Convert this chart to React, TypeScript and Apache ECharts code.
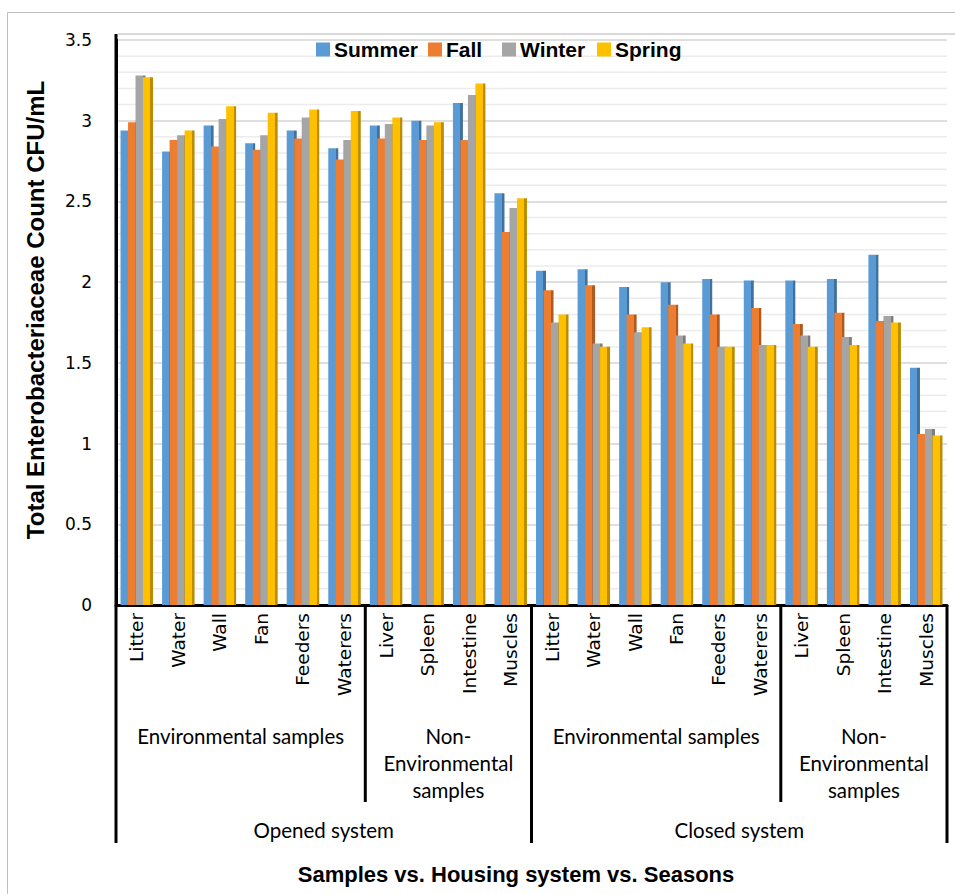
import React, { useEffect, useRef } from "react";
import * as echarts from "echarts";

const categories = [
  "Litter", "Water", "Wall", "Fan", "Feeders", "Waterers", "Liver", "Spleen", "Intestine", "Muscles",
  "Litter", "Water", "Wall", "Fan", "Feeders", "Waterers", "Liver", "Spleen", "Intestine", "Muscles",
];
const seriesNames = ["Summer", "Fall", "Winter", "Spring"];
const summer = [2.94, 2.81, 2.97, 2.86, 2.94, 2.83, 2.97, 3.0, 3.11, 2.55, 2.07, 2.08, 1.97, 2.0, 2.02, 2.01, 2.01, 2.02, 2.17, 1.47];
const fall = [2.99, 2.88, 2.84, 2.82, 2.89, 2.76, 2.89, 2.88, 2.88, 2.31, 1.95, 1.98, 1.8, 1.86, 1.8, 1.84, 1.74, 1.81, 1.76, 1.06];
const winter = [3.28, 2.91, 3.01, 2.91, 3.02, 2.88, 2.98, 2.97, 3.16, 2.46, 1.75, 1.62, 1.69, 1.67, 1.6, 1.61, 1.67, 1.66, 1.79, 1.09];
const spring = [3.27, 2.94, 3.09, 3.05, 3.07, 3.06, 3.02, 2.99, 3.23, 2.52, 1.8, 1.6, 1.72, 1.62, 1.6, 1.61, 1.6, 1.61, 1.75, 1.05];
const yTicks = [0, 0.5, 1, 1.5, 2, 2.5, 3, 3.5];
const minorGrid = [0.1, 0.2, 0.3, 0.4, 0.6, 0.7, 0.8, 0.9, 1.1, 1.2, 1.3, 1.4, 1.6, 1.7, 1.8, 1.9, 2.1, 2.2, 2.3, 2.4, 2.6, 2.7, 2.8, 2.9, 3.1, 3.2, 3.3, 3.4];
const sampleGroups = [
  { label: "Environmental samples", from: 0, to: 6 },
  { label: "Non-\nEnvironmental\nsamples", from: 6, to: 10 },
  { label: "Environmental samples", from: 10, to: 16 },
  { label: "Non-\nEnvironmental\nsamples", from: 16, to: 20 },
];
const systemGroups = [
  { label: "Opened system", from: 0, to: 10 },
  { label: "Closed system", from: 10, to: 20 },
];
const yTitle = "Total Enterobacteriaceae Count CFU/mL";
const xTitle = "Samples vs. Housing system vs. Seasons";

const colors = ["#5B9BD5", "#ED7D31", "#A5A5A5", "#FFC000"];
const darks = ["#41719C", "#AE5A21", "#7C7C7C", "#BC8C00"];
const legendLefts = [316, 428, 502, 597];

export default function App() {
  const ref = useRef<HTMLDivElement>(null);
  useEffect(() => {
    document.body.style.margin = "0";
    const chart = echarts.init(ref.current!, null, { renderer: "svg" });
    const data = [summer, fall, winter, spring];
    const option: any = {
      animation: false,
      backgroundColor: "#ffffff",
      legend: seriesNames.map((n, k) => ({
        left: legendLefts[k],
        top: 39,
        padding: 0,
        itemWidth: 14,
        itemHeight: 14,
        itemGap: 0,
        icon: "rect",
        data: [{ name: n, itemStyle: { color: colors[k] } }],
        textStyle: { fontFamily: "Liberation Sans", fontWeight: "bold", fontSize: 21, color: "#000", padding: [0, 0, 0, -1] },
      })),
      grid: { left: 116, right: 8, top: 40, bottom: 289 },
      xAxis: {
        type: "category",
        data: categories,
        axisLine: { show: true, lineStyle: { color: "#000", width: 3 } },
        axisTick: { show: false },
        splitLine: { show: false },
        axisLabel: {
          rotate: 90,
          interval: 0,
          margin: 8,
          fontFamily: "DejaVu Sans",
          fontSize: 18.5,
          color: "#000",
        },
      },
      yAxis: {
        type: "value",
        min: 0,
        max: 3.5,
        interval: 0.5,
        axisLine: { show: true, lineStyle: { color: "#000", width: 3 } },
        axisTick: { show: false },
        axisLabel: {
          margin: 24,
          fontFamily: "DejaVu Sans",
          fontSize: 17,
          color: "#000",
          formatter: (v: number) => (yTicks.includes(v) ? String(v) : ""),
        },
        splitLine: { show: true, lineStyle: { color: "#D4D4D4", width: 1.5 } },
      },
      series: seriesNames.map((name, k) => ({
        name,
        type: "bar",
        data: data[k],
        barWidth: 10,
        barGap: "-25%",
        barCategoryGap: "20%",
        itemStyle: {
          color: new echarts.graphic.LinearGradient(0, 0, 1, 0, [
            { offset: 0, color: colors[k] },
            { offset: 0.74, color: colors[k] },
            { offset: 0.74, color: darks[k] },
            { offset: 1, color: darks[k] },
          ]),
        },
      })),
    };
    chart.setOption(option);

    const cx = (i: number) => chart.convertToPixel({ xAxisIndex: 0 }, i) as number;
    const py = (v: number) => chart.convertToPixel({ yAxisIndex: 0 }, v) as number;
    const bw = cx(1) - cx(0);
    const bound = (i: number) => cx(0) + (i - 0.5) * bw;
    const y0 = py(0);
    const yTop = py(3.5);
    const labelFont = { fontFamily: "Lato", fontSize: 20.5, fill: "#000" };
    const graphics: any[] = [];
    graphics.push({
      type: "rect",
      shape: { x: 7.5, y: 12.5, width: 1000, height: 1000 },
      style: { fill: "none", stroke: "#BFBFBF", lineWidth: 1 },
      silent: true,
      z: -10,
    });
    minorGrid.forEach((v) => {
      graphics.push({
        type: "line",
        shape: { x1: bound(0), y1: py(v), x2: bound(20), y2: py(v) },
        style: { stroke: "#ECECEC", lineWidth: 1.5 },
        silent: true,
        z: -5,
      });
    });
    graphics.push({
      type: "line",
      shape: { x1: bound(0) + 2, y1: yTop - 6, x2: 955, y2: yTop - 6 },
      style: { stroke: "#D9D9D9", lineWidth: 2 },
      silent: true,
    });
    graphics.push({
      type: "line",
      shape: { x1: bound(0), y1: yTop - 6, x2: bound(0), y2: y0 },
      style: { stroke: "#000", lineWidth: 3 },
      silent: true,
    });
    [0, 10, 20].forEach((i) => {
      graphics.push({
        type: "line",
        shape: { x1: bound(i), y1: y0, x2: bound(i), y2: y0 + 238 },
        style: { stroke: "#000", lineWidth: 3 },
        silent: true,
      });
    });
    [6, 16].forEach((i) => {
      graphics.push({
        type: "line",
        shape: { x1: bound(i), y1: y0, x2: bound(i), y2: y0 + 197 },
        style: { stroke: "#000", lineWidth: 3 },
        silent: true,
      });
    });
    sampleGroups.forEach((g) => {
      graphics.push({
        type: "text",
        x: (bound(g.from) + bound(g.to)) / 2,
        y: y0 + 117,
        style: { ...labelFont, text: g.label, align: "center", verticalAlign: "top", lineHeight: 27 },
        silent: true,
      });
    });
    systemGroups.forEach((g) => {
      graphics.push({
        type: "text",
        x: (bound(g.from) + bound(g.to)) / 2,
        y: y0 + 225,
        style: { ...labelFont, text: g.label, align: "center", verticalAlign: "middle" },
        silent: true,
      });
    });
    graphics.push({
      type: "text",
      x: 35,
      y: 310,
      rotation: Math.PI / 2,
      style: {
        text: yTitle,
        fontFamily: "Liberation Sans",
        fontWeight: "bold",
        fontSize: 24,
        fill: "#000",
        align: "center",
        verticalAlign: "middle",
      },
      silent: true,
    });
    graphics.push({
      type: "text",
      x: 516,
      y: 874,
      style: {
        text: xTitle,
        fontFamily: "Liberation Sans",
        fontWeight: "bold",
        fontSize: 22,
        fill: "#000",
        align: "center",
        verticalAlign: "middle",
      },
      silent: true,
    });
    chart.setOption({ graphic: graphics });

    return () => chart.dispose();
  }, []);
  return <div ref={ref} style={{ width: 955, height: 894 }} />;
}
